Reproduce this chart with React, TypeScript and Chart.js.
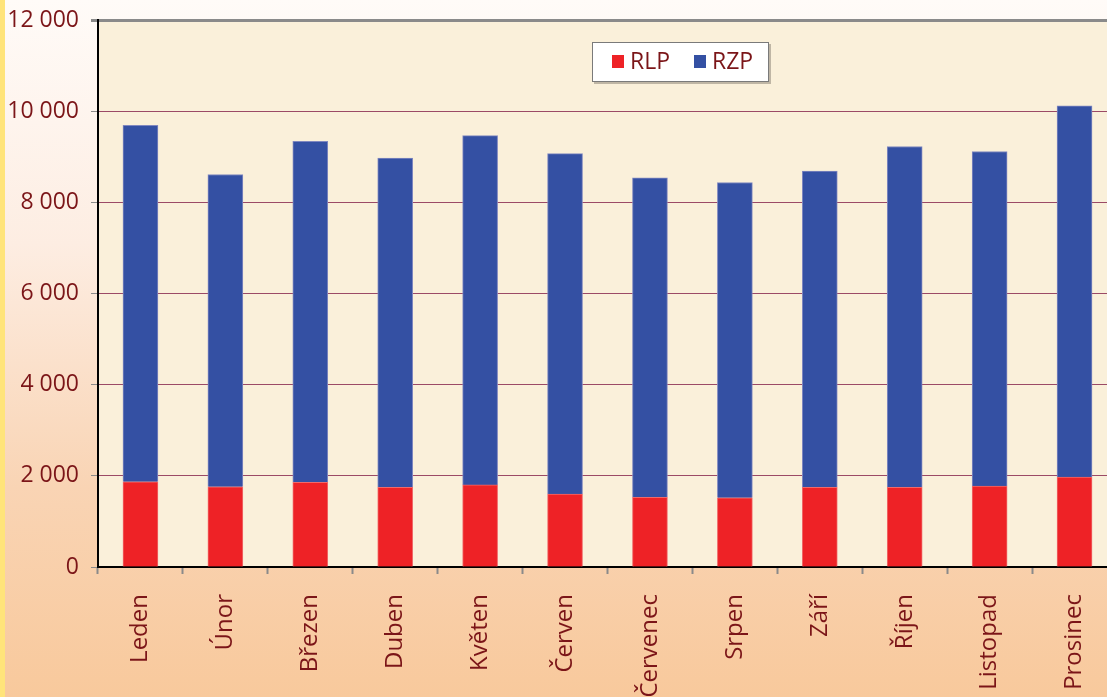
import React, { useEffect, useRef } from "react";
import { Chart, registerables } from "chart.js";

Chart.register(...registerables);

const MONTHS = ["Leden", "Únor", "Březen", "Duben", "Květen", "Červen", "Červenec", "Srpen", "Září", "Říjen", "Listopad", "Prosinec"];
const RLP = [1870, 1760, 1860, 1750, 1800, 1600, 1530, 1520, 1750, 1750, 1775, 1970];
const RZP = [7820, 6850, 7480, 7220, 7665, 7470, 7010, 6915, 6935, 7475, 7340, 8145];
const Y_MIN = 0;
const Y_MAX = 12000;
const Y_STEP = 2000;

const TEXT = "#7B1518";
const FONT = "'Open Sans', 'Noto Sans', sans-serif";

const fmt = (v: number) => String(v).replace(/\B(?=(\d{3})+(?!\d))/g, " ");

const bgPlugin = {
  id: "bg",
  beforeDraw(chart: any) {
    const { ctx, width, height, chartArea } = chart;
    ctx.save();
    const g = ctx.createLinearGradient(0, 0, 0, height);
    g.addColorStop(0, "#FFFBF8");
    g.addColorStop(0.35, "#FDEDE2");
    g.addColorStop(0.7, "#F9D4B4");
    g.addColorStop(1, "#F8C99C");
    ctx.fillStyle = g;
    ctx.fillRect(0, 0, width, height);
    ctx.fillStyle = "#FFE47A";
    ctx.fillRect(0, 0, 5, height);
    ctx.fillStyle = "#FAF0DA";
    ctx.fillRect(chartArea.left, chartArea.top, chartArea.right - chartArea.left, chartArea.bottom - chartArea.top);
    ctx.restore();
  },
};

const legendPlugin = {
  id: "boxLegend",
  afterDraw(chart: any) {
    const { ctx } = chart;
    const x = 592, y = 42, w = 177, h = 40;
    ctx.save();
    ctx.fillStyle = "rgba(120,110,100,0.45)";
    ctx.fillRect(x + 2, y + 2, w, h);
    ctx.fillStyle = "#FFFFFF";
    ctx.fillRect(x, y, w, h);
    ctx.strokeStyle = "#7A7A7A";
    ctx.lineWidth = 1;
    ctx.strokeRect(x + 0.5, y + 0.5, w - 1, h - 1);
    ctx.font = `500 23px ${FONT}`;
    ctx.textBaseline = "middle";
    const items = chart.data.datasets;
    const starts = [612, 694];
    items.forEach((ds: any, i: number) => {
      const sx = starts[i];
      ctx.fillStyle = ds.backgroundColor;
      ctx.fillRect(sx, 55, 12, 13);
      ctx.fillStyle = TEXT;
      ctx.fillText(ds.label, sx + 18, 62);
    });
    ctx.restore();
  },
};

export default function App() {
  const ref = useRef<HTMLCanvasElement | null>(null);
  useEffect(() => {
    if (!ref.current) return;
    const chart = new Chart(ref.current, {
      type: "bar",
      data: {
        labels: MONTHS,
        datasets: [
          { label: "RLP", data: RLP, backgroundColor: "#EE2226", borderColor: "#F06A6A", borderWidth: 1, barThickness: 35 },
          { label: "RZP", data: RZP, backgroundColor: "#3450A3", borderColor: "#8088C0", borderWidth: 1, barThickness: 35 },
        ],
      },
      options: {
        responsive: false,
        animation: false,
        devicePixelRatio: 1,
        layout: { padding: { left: 0, top: 20, right: 13, bottom: 0 } },
        plugins: { legend: { display: false }, tooltip: { enabled: false } },
        scales: {
          x: {
            stacked: true,
            afterFit: (s: any) => { s.height = 130; s.paddingLeft = 0; s.paddingRight = 0; },
            border: { color: "#000", width: 2 },
            grid: { display: true, drawOnChartArea: false, offset: true, tickLength: 7, tickColor: "#8A8A8A", tickWidth: 2 },
            ticks: {
              autoSkip: false,
              maxRotation: 90,
              minRotation: 90,
              padding: 20,
              color: TEXT,
              font: { family: FONT, size: 24, weight: "500" },
            },
          },
          y: {
            stacked: true,
            min: Y_MIN,
            max: Y_MAX,
            afterFit: (s: any) => { s.width = 98; s.paddingTop = 0; s.paddingBottom = 0; },
            border: { color: "#000", width: 2 },
            grid: {
              color: (c: any) => (c.tick && c.tick.value === Y_MAX ? "#8A8A8A" : "#9B4A66"),
              lineWidth: (c: any) => (c.tick && c.tick.value === Y_MAX ? 3 : 1),
              tickLength: 7,
              tickColor: "#8A8A8A",
            },
            ticks: {
              stepSize: Y_STEP,
              padding: 12,
              color: TEXT,
              font: { family: FONT, size: 23, weight: "500" },
              callback: (v: any) => fmt(Number(v)),
            },
          },
        },
      },
      plugins: [bgPlugin, legendPlugin],
    });
    return () => chart.destroy();
  }, []);
  return (
    <div style={{ position: "fixed", left: 0, top: 0, width: 1107, height: 697, overflow: "hidden" }}>
      <canvas ref={ref} width={1130} height={697} style={{ display: "block", width: 1130, height: 697 }} />
    </div>
  );
}
